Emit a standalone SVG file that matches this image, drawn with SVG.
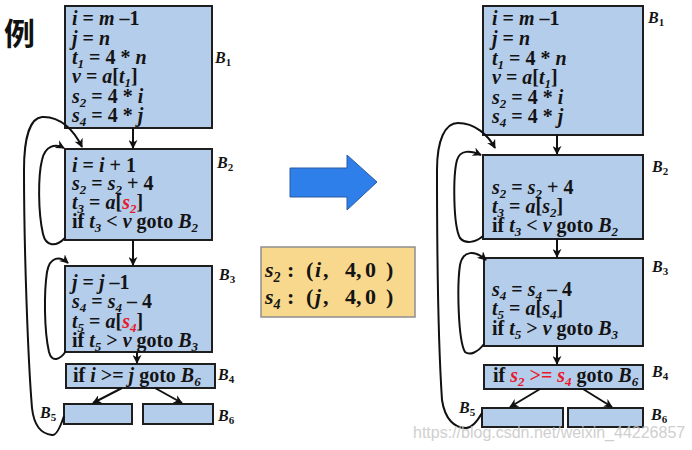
<svg xmlns="http://www.w3.org/2000/svg" width="692" height="450" viewBox="0 0 692 450">
<style>
.bx{fill:#B4CDEB;stroke:#1e1e1e;stroke-width:2}
.t{font-family:"Liberation Serif","Times New Roman",serif;font-weight:bold;font-size:20px;fill:#141414}
.v{font-style:italic}
.s{font-size:13px;font-style:italic}
.r{fill:#E8192C}
.lab{font-family:"Liberation Serif","Times New Roman",serif;font-weight:bold;font-style:italic;font-size:16px;fill:#151515}
.ls{font-size:11px;font-style:normal}
.m{font-family:"Liberation Serif","Times New Roman",serif;font-weight:bold;font-size:22px;fill:#141414}
.c{fill:none;stroke:#111;stroke-width:2}
.wm{font-family:"Liberation Sans",Arial,sans-serif;font-size:16px;fill:#c4c4c4;opacity:0.8}
</style>
<defs>
<marker id="ah" viewBox="0 0 10 10" refX="9" refY="5" markerWidth="9" markerHeight="9" markerUnits="userSpaceOnUse" orient="auto">
<path d="M0,0 L10,5 L0,10 L3,5 z" fill="#111"/>
</marker>
</defs>

<text x="4" y="45" font-family="'Noto Sans CJK SC','Noto Sans CJK JP',sans-serif" font-weight="bold" font-size="31" fill="#111">例</text>

<!-- Left diagram -->
<g id="L_B1">
<rect class="bx" x="65" y="6" width="147" height="122"/>
<text class="t" x="72" y="25"><tspan class="v">i</tspan> = <tspan class="v">m</tspan> –1</text>
<text class="t" x="72" y="45"><tspan class="v">j</tspan> = <tspan class="v">n</tspan></text>
<text class="t" x="72" y="64"><tspan class="v">t</tspan><tspan class="s" dy="4">1</tspan><tspan dy="-4"> = 4 * </tspan><tspan class="v">n</tspan></text>
<text class="t" x="72" y="83"><tspan class="v">v</tspan> = <tspan class="v">a</tspan>[<tspan class="v">t</tspan><tspan class="s" dy="4">1</tspan><tspan dy="-4">]</tspan></text>
<text class="t" x="72" y="103"><tspan class="v">s</tspan><tspan class="s" dy="4">2</tspan><tspan dy="-4"> = 4 * </tspan><tspan class="v">i</tspan></text>
<text class="t" x="72" y="122"><tspan class="v">s</tspan><tspan class="s" dy="4">4</tspan><tspan dy="-4"> = 4 * </tspan><tspan class="v">j</tspan></text>
<text class="lab" x="215" y="63">B<tspan class="ls" dy="3">1</tspan></text>
</g>
<g id="L_B2">
<rect class="bx" x="65" y="149" width="147" height="91"/>
<text class="t" x="72" y="172"><tspan class="v">i</tspan> = <tspan class="v">i</tspan> + 1</text>
<text class="t" x="72" y="190"><tspan class="v">s</tspan><tspan class="s" dy="4">2</tspan><tspan dy="-4"> = </tspan><tspan class="v">s</tspan><tspan class="s" dy="4">2</tspan><tspan dy="-4"> + 4</tspan></text>
<text class="t" x="72" y="209"><tspan class="v">t</tspan><tspan class="s" dy="4">3</tspan><tspan dy="-4"> = </tspan><tspan class="v">a</tspan>[<tspan class="v r">s</tspan><tspan class="s r" dy="4">2</tspan><tspan dy="-4">]</tspan></text>
<text class="t" x="72" y="228">if <tspan class="v">t</tspan><tspan class="s" dy="4">3</tspan><tspan dy="-4"> &lt; </tspan><tspan class="v">v</tspan> goto <tspan class="v">B</tspan><tspan class="s" dy="4">2</tspan></text>
<text class="lab" x="217" y="168">B<tspan class="ls" dy="3">2</tspan></text>
</g>
<g id="L_B3">
<rect class="bx" x="65" y="266" width="147" height="86"/>
<text class="t" x="72" y="289"><tspan class="v">j</tspan> = <tspan class="v">j</tspan> –1</text>
<text class="t" x="72" y="308"><tspan class="v">s</tspan><tspan class="s" dy="4">4</tspan><tspan dy="-4"> = </tspan><tspan class="v">s</tspan><tspan class="s" dy="4">4</tspan><tspan dy="-4"> –  4</tspan></text>
<text class="t" x="72" y="328"><tspan class="v">t</tspan><tspan class="s" dy="4">5</tspan><tspan dy="-4"> = </tspan><tspan class="v">a</tspan>[<tspan class="v r">s</tspan><tspan class="s r" dy="4">4</tspan><tspan dy="-4">]</tspan></text>
<text class="t" x="72" y="347">if <tspan class="v">t</tspan><tspan class="s" dy="4">5</tspan><tspan dy="-4"> &gt; </tspan><tspan class="v">v</tspan> goto <tspan class="v">B</tspan><tspan class="s" dy="4">3</tspan></text>
<text class="lab" x="219" y="280">B<tspan class="ls" dy="3">3</tspan></text>
</g>
<g id="L_B4">
<rect class="bx" x="66" y="364" width="149" height="24"/>
<text class="t" x="73" y="382">if <tspan class="v">i</tspan> &gt;= <tspan class="v">j</tspan> goto <tspan class="v">B</tspan><tspan class="s" dy="4">6</tspan></text>
<text class="lab" x="218" y="380">B<tspan class="ls" dy="3">4</tspan></text>
</g>
<g id="L_B5">
<rect class="bx" x="64" y="404" width="68" height="20"/>
<text class="lab" x="40" y="418">B<tspan class="ls" dy="3">5</tspan></text>
</g>
<g id="L_B6">
<rect class="bx" x="143" y="404" width="70" height="20"/>
<text class="lab" x="218" y="421">B<tspan class="ls" dy="3">6</tspan></text>
</g>

<!-- Right diagram -->
<g id="R_B1">
<rect class="bx" x="483" y="6" width="160" height="129"/>
<text class="t" x="492" y="25"><tspan class="v">i</tspan> = <tspan class="v">m</tspan> –1</text>
<text class="t" x="492" y="45"><tspan class="v">j</tspan> = <tspan class="v">n</tspan></text>
<text class="t" x="492" y="65"><tspan class="v">t</tspan><tspan class="s" dy="4">1</tspan><tspan dy="-4"> = 4 * </tspan><tspan class="v">n</tspan></text>
<text class="t" x="492" y="84"><tspan class="v">v</tspan> = <tspan class="v">a</tspan>[<tspan class="v">t</tspan><tspan class="s" dy="4">1</tspan><tspan dy="-4">]</tspan></text>
<text class="t" x="492" y="104"><tspan class="v">s</tspan><tspan class="s" dy="4">2</tspan><tspan dy="-4"> = 4 * </tspan><tspan class="v">i</tspan></text>
<text class="t" x="492" y="123"><tspan class="v">s</tspan><tspan class="s" dy="4">4</tspan><tspan dy="-4"> = 4 * </tspan><tspan class="v">j</tspan></text>
<text class="lab" x="648" y="23">B<tspan class="ls" dy="3">1</tspan></text>
</g>
<g id="R_B2">
<rect class="bx" x="483" y="155" width="160" height="84"/>
<text class="t" x="492" y="194"><tspan class="v">s</tspan><tspan class="s" dy="4">2</tspan><tspan dy="-4"> = </tspan><tspan class="v">s</tspan><tspan class="s" dy="4">2</tspan><tspan dy="-4"> + 4</tspan></text>
<text class="t" x="492" y="213"><tspan class="v">t</tspan><tspan class="s" dy="4">3</tspan><tspan dy="-4"> = </tspan><tspan class="v">a</tspan>[<tspan class="v">s</tspan><tspan class="s" dy="4">2</tspan><tspan dy="-4">]</tspan></text>
<text class="t" x="492" y="232">if <tspan class="v">t</tspan><tspan class="s" dy="4">3</tspan><tspan dy="-4"> &lt; </tspan><tspan class="v">v</tspan> goto <tspan class="v">B</tspan><tspan class="s" dy="4">2</tspan></text>
<text class="lab" x="652" y="172">B<tspan class="ls" dy="3">2</tspan></text>
</g>
<g id="R_B3">
<rect class="bx" x="484" y="258" width="159" height="88"/>
<text class="t" x="492" y="296"><tspan class="v">s</tspan><tspan class="s" dy="4">4</tspan><tspan dy="-4"> = </tspan><tspan class="v">s</tspan><tspan class="s" dy="4">4</tspan><tspan dy="-4"> –  4</tspan></text>
<text class="t" x="492" y="315"><tspan class="v">t</tspan><tspan class="s" dy="4">5</tspan><tspan dy="-4"> = </tspan><tspan class="v">a</tspan>[<tspan class="v">s</tspan><tspan class="s" dy="4">4</tspan><tspan dy="-4">]</tspan></text>
<text class="t" x="492" y="335">if <tspan class="v">t</tspan><tspan class="s" dy="4">5</tspan><tspan dy="-4"> &gt; </tspan><tspan class="v">v</tspan> goto <tspan class="v">B</tspan><tspan class="s" dy="4">3</tspan></text>
<text class="lab" x="652" y="272">B<tspan class="ls" dy="3">3</tspan></text>
</g>
<g id="R_B4">
<rect class="bx" x="484" y="365" width="159" height="24"/>
<text class="t" x="493" y="382">if <tspan class="v r">s</tspan><tspan class="s r" dy="4">2</tspan><tspan class="r" dy="-4"> &gt;= </tspan><tspan class="v r">s</tspan><tspan class="s r" dy="4">4</tspan><tspan dy="-4"> goto </tspan><tspan class="v">B</tspan><tspan class="s" dy="4">6</tspan></text>
<text class="lab" x="652" y="377">B<tspan class="ls" dy="3">4</tspan></text>
</g>
<g id="R_B5">
<rect class="bx" x="482" y="408" width="81" height="19"/>
<text class="lab" x="459" y="413">B<tspan class="ls" dy="3">5</tspan></text>
</g>
<g id="R_B6">
<rect class="bx" x="568" y="408" width="75" height="19"/>
<text class="lab" x="651" y="420">B<tspan class="ls" dy="3">6</tspan></text>
</g>

<!-- Middle -->
<g id="transform_arrow">
<polygon points="290,168 347,168 347,155 377,182 347,210 347,197 290,197" fill="#2F7FEA" stroke="#2a5aa0" stroke-width="1"/>
</g>
<g id="ivbox">
<rect x="261" y="247" width="154" height="70" fill="#F8D88C" stroke="#8f8f8f" stroke-width="1.5"/>
<text class="m" y="277"><tspan class="v" x="265">s</tspan><tspan class="s" style="font-size:14px" dy="5">2</tspan><tspan dy="-5" x="287">:</tspan><tspan x="306">(</tspan><tspan class="v" x="315">i</tspan><tspan x="323">,</tspan><tspan x="345">4,</tspan><tspan x="365">0</tspan><tspan x="386">)</tspan></text>
<text class="m" y="304"><tspan class="v" x="265">s</tspan><tspan class="s" style="font-size:14px" dy="5">4</tspan><tspan dy="-5" x="287">:</tspan><tspan x="306">(</tspan><tspan class="v" x="315">j</tspan><tspan x="323">,</tspan><tspan x="345">4,</tspan><tspan x="365">0</tspan><tspan x="386">)</tspan></text>
</g>

<!-- Connectors -->
<g id="connectors">
<path class="c" d="M133,128 L133,148" marker-end="url(#ah)"/>
<path class="c" d="M133,240 L133,265" marker-end="url(#ah)"/>
<path class="c" d="M137,352 L137,363" marker-end="url(#ah)"/>
<path class="c" d="M122,388 L93,403" marker-end="url(#ah)"/>
<path class="c" d="M155,388 L182,403" marker-end="url(#ah)"/>
<path class="c" d="M65,238 C56,247 46,247 43,234 C38,212 38,176 42,160 C45,146 55,143 64,148" marker-end="url(#ah)"/>
<path class="c" d="M66,351 C60,360 52,363 49,352 C44,330 44,292 47,272 C50,256 60,256 68,263" marker-end="url(#ah)"/>
<path class="c" d="M64,416 C60,428 56,436 52,435 C42,434 34,426 32,408 C28,360 24,250 24,170 C24,138 30,118 42,117 C60,116 74,130 82,147" marker-end="url(#ah)"/>

<path class="c" d="M557,135 L557,154" marker-end="url(#ah)"/>
<path class="c" d="M557,239 L557,257" marker-end="url(#ah)"/>
<path class="c" d="M557,346 L557,364" marker-end="url(#ah)"/>
<path class="c" d="M540,389 L510,407" marker-end="url(#ah)"/>
<path class="c" d="M583,389 L612,407" marker-end="url(#ah)"/>
<path class="c" d="M483,236 C475,243 465,244 460,238 C453,225 453,175 457,160 C460,150 470,150 481,155" marker-end="url(#ah)"/>
<path class="c" d="M484,344 C478,352 470,356 465,352 C458,340 457,285 460,265 C463,250 475,250 486,260" marker-end="url(#ah)"/>
<path class="c" d="M482,413 C478,420 472,428 466,428 C455,428 445,420 442,400 C438,340 437,230 437,170 C437,140 445,123 458,123 C475,123 488,135 495,148" marker-end="url(#ah)"/>
</g>

<text class="wm" x="413" y="438">https://blog.csdn.net/weixin_44226857</text>
</svg>
